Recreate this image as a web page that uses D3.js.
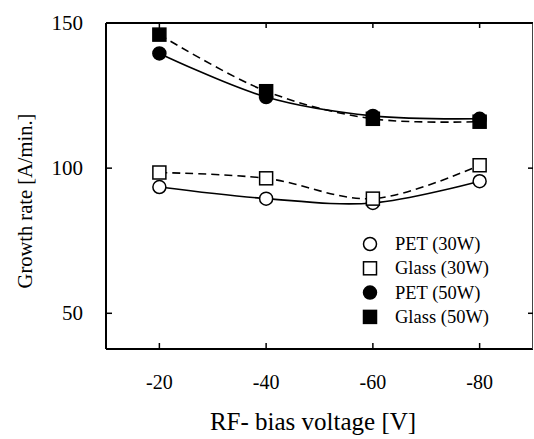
<!DOCTYPE html>
<html>
<head>
<meta charset="utf-8">
<script src="https://cdn.jsdelivr.net/npm/d3@7"></script>
<style>
  body { margin: 0; background: #fff; }
  svg { display: block; }
</style>
</head>
<body>
<svg width="534" height="439"></svg>
<script>
const voltages = [-20, -40, -60, -80];
const xTicks = [-20, -40, -60, -80];
const yTicks = [50, 100, 150];

const pet30 = [93.5, 89.5, 88, 95.5];
const glass30 = [98.5, 96.5, 89.5, 101];
const pet50 = [139.5, 124.5, 118, 117];
const glass50 = [146, 126.5, 117, 116];

const series = [
  { name: "PET (30W)", values: pet30, shape: "circle", fill: "#fff", dash: null },
  { name: "Glass (30W)", values: glass30, shape: "square", fill: "#fff", dash: "8,5" },
  { name: "PET (50W)", values: pet50, shape: "circle", fill: "#000", dash: null },
  { name: "Glass (50W)", values: glass50, shape: "square", fill: "#000", dash: "8,5" }
];

const serif = "Liberation Serif";
const svg = d3.select("svg").attr("font-family", serif);
const plotL = 106, plotR = 533, plotT = 23, plotB = 349;

const x = d3.scaleLinear().domain([-10, -90]).range([plotL, plotR]);
const y = d3.scaleLinear().domain([37.7, 150]).range([plotB, plotT]);

// frame
svg.append("line").attr("x1", plotL).attr("x2", plotR).attr("y1", plotT).attr("y2", plotT)
  .attr("stroke", "#000").attr("stroke-width", 2);
svg.append("line").attr("x1", plotL).attr("x2", plotR).attr("y1", plotB).attr("y2", plotB)
  .attr("stroke", "#000").attr("stroke-width", 2);
svg.append("line").attr("x1", plotL).attr("x2", plotL).attr("y1", plotT).attr("y2", plotB)
  .attr("stroke", "#000").attr("stroke-width", 2);
svg.append("line").attr("x1", plotR - 0.5).attr("x2", plotR - 0.5).attr("y1", plotT).attr("y2", plotB)
  .attr("stroke", "#444").attr("stroke-width", 1);

// x ticks, inward at bottom and top
const xt = svg.append("g");
xTicks.forEach(v => {
  xt.append("line").attr("x1", x(v)).attr("x2", x(v)).attr("y1", plotB).attr("y2", plotB - 6)
    .attr("stroke", "#000").attr("stroke-width", 1.5);
  xt.append("line").attr("x1", x(v)).attr("x2", x(v)).attr("y1", plotT).attr("y2", plotT + 5)
    .attr("stroke", "#000").attr("stroke-width", 1.5);
  xt.append("text").attr("x", x(v)).attr("y", 389).attr("text-anchor", "middle")
    .attr("font-size", 20).text(v);
});

// y ticks
const yt = svg.append("g");
yTicks.forEach(v => {
  yt.append("line").attr("x1", plotL).attr("x2", plotL + 6).attr("y1", y(v)).attr("y2", y(v))
    .attr("stroke", "#000").attr("stroke-width", 1.5);
  yt.append("line").attr("x1", plotR - 5).attr("x2", plotR).attr("y1", y(v)).attr("y2", y(v))
    .attr("stroke", "#000").attr("stroke-width", 1.5);
  yt.append("text").attr("x", 83).attr("y", y(v) + 7).attr("text-anchor", "end")
    .attr("font-size", 21).text(v);
});

// axis titles
svg.append("text").attr("x", 313).attr("y", 430).attr("text-anchor", "middle")
  .attr("font-size", 25).text("RF- bias voltage [V]");
svg.append("text").attr("transform", "translate(32,201) rotate(-90)")
  .attr("text-anchor", "middle").attr("font-size", 20.5)
  .text("Growth rate [A/min.]");

// lines
const line = d3.line()
  .x((d, i) => x(voltages[i]))
  .y(d => y(d))
  .curve(d3.curveCatmullRom.alpha(0.5));

series.forEach(s => {
  svg.append("path").datum(s.values)
    .attr("d", line)
    .attr("fill", "none")
    .attr("stroke", "#000")
    .attr("stroke-width", 1.6)
    .attr("stroke-dasharray", s.dash);
});

function marker(g, shape, fill, cx, cy) {
  if (shape === "circle") {
    g.append("circle").attr("cx", cx).attr("cy", cy).attr("r", 6.5)
      .attr("fill", fill).attr("stroke", "#000").attr("stroke-width", 1.5);
  } else {
    g.append("rect").attr("x", cx - 6.5).attr("y", cy - 6.5).attr("width", 13).attr("height", 13)
      .attr("fill", fill).attr("stroke", "#000").attr("stroke-width", 1.5);
  }
}

series.forEach(s => {
  const g = svg.append("g");
  s.values.forEach((v, i) => marker(g, s.shape, s.fill, x(voltages[i]), y(v)));
});

// legend
const legend = svg.append("g");
series.forEach((s, i) => {
  const ly = 244 + i * 24.3;
  marker(legend, s.shape, s.fill, 370, ly);
  legend.append("text").attr("x", 395).attr("y", ly + 6)
    .attr("font-size", 18.5).text(s.name);
});
</script>
</body>
</html>
